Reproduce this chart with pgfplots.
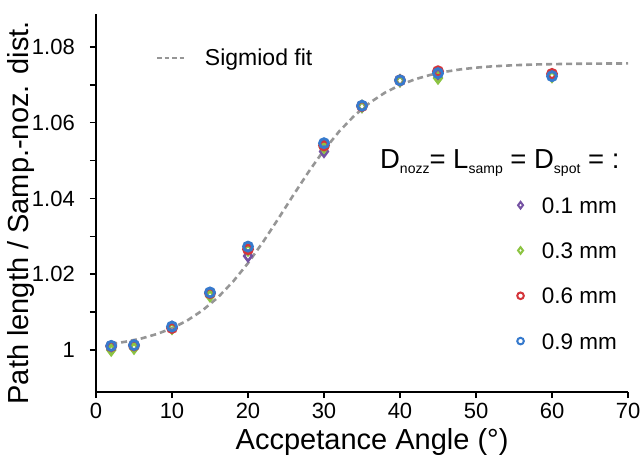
\documentclass[border=0pt]{standalone}
\usepackage{fontspec}
\setmainfont{Liberation Sans}
\usepackage{pgfplots}
\usepackage{pgfplotstable}
\pgfplotsset{compat=1.18}
\definecolor{cpurple}{RGB}{117,82,163}
\definecolor{cgreen}{RGB}{140,196,66}
\definecolor{cred}{RGB}{212,52,58}
\definecolor{cblue}{RGB}{54,122,205}
\definecolor{cgray}{RGB}{150,150,150}
\newcommand{\sub}[1]{\raisebox{-5pt}{\fontsize{14}{14}\selectfont #1}}

\pgfplotstableread{
x    p01     p03     p06     p09
2    1.0006  1.0000  1.0010  1.0011
5    1.0008  1.0005  1.0012  1.0013
10   1.0060  1.0057  1.0058  1.0062
15   1.0148  1.0143  1.0150  1.0152
20   1.0248  1.0264  1.0266  1.0273
30   1.0524  1.0535  1.0540  1.0546
35   1.0643  1.0643  1.0644  1.0645
40   1.0711  1.0711  1.0712  1.0712
45   1.0728  1.0718  1.0736  1.0731
60   1.0724  1.0722  1.0729  1.0723
}\data

\pgfplotstableread{
x   y
2   1.00160
4   1.00222
6   1.00306
8   1.00421
10  1.00574
12  1.00778
14  1.01044
16  1.01381
18  1.01798
20  1.02293
22  1.02858
24  1.03470
26  1.04100
28  1.04712
30  1.05277
32  1.05772
34  1.06189
36  1.06526
38  1.06792
40  1.06996
42  1.07149
44  1.07264
46  1.07348
48  1.07410
50  1.07454
52  1.07487
55  1.07519
58  1.07539
62  1.07554
66  1.07562
70  1.07566
}\fit

\begin{document}
\begin{tikzpicture}
\useasboundingbox (-96pt,-66pt) rectangle (548pt,392pt);
\begin{axis}[
  at={(0pt,0pt)}, anchor=south west,
  scale only axis, width=532pt, height=378pt,
  xmin=0, xmax=70, ymin=0.98891, ymax=1.08871,
  axis lines*=left,
  axis line style={line width=1.8pt, black},
  xtick={0,10,20,30,40,50,60,70},
  ytick={1,1.02,1.04,1.06,1.08},
  minor ytick={1.01,1.03,1.05,1.07},
  tick align=outside,
  major tick length=6pt, minor tick length=6pt,
  tick style={line width=1.5pt, black},
  /pgf/number format/assume math mode=true,
  ticklabel style={font=\fontsize{22}{22}\selectfont},
  yticklabel style={anchor=east, inner sep=0pt, xshift=-15pt},
  xticklabel style={anchor=north, inner sep=0pt, yshift=-5pt},
  xlabel={Accpetance Angle (°)},
  ylabel={Path length / Samp.-noz. dist.},
  xlabel style={font=\fontsize{29}{29}\selectfont, at={(axis description cs:0.519,0)}, anchor=base, yshift=-57pt},
  ylabel style={font=\fontsize{29}{29}\selectfont, at={(axis description cs:-0.1278,0.474)}, anchor=base},
  legend style={draw=none, fill=none, inner sep=0pt,
    at={(axis cs:55.4,1.0404)}, anchor=north west,
    font=\fontsize{22.5}{22.5}\selectfont,
    nodes={inner sep=0pt, text height=16pt, text depth=0pt},
    row sep=29.3pt,
    /tikz/every odd column/.append style={column sep=18pt}},
  legend cell align=left,
  legend image code/.code={\draw[#1, line width=2pt, mark size=3.3pt] plot coordinates {(0pt,0pt)};},
]
\addplot[color=cgray, line width=2.6pt, dash pattern=on 6pt off 4pt, forget plot] table[x=x,y=y] {\fit};
\addplot[only marks, mark=diamond, mark size=5pt, line width=2.6pt, color=cpurple] table[x=x,y=p01] {\data};
\addlegendentry{0.1 mm}
\addplot[only marks, mark=diamond, mark size=5pt, line width=2.6pt, color=cgreen] table[x=x,y=p03] {\data};
\addlegendentry{0.3 mm}
\addplot[only marks, mark=o, mark size=4.5pt, line width=2.8pt, color=cred] table[x=x,y=p06] {\data};
\addlegendentry{0.6 mm}
\addplot[only marks, mark=o, mark size=4.5pt, line width=2.8pt, color=cblue] table[x=x,y=p09] {\data};
\addlegendentry{0.9 mm}
\node[anchor=base east, inner sep=0pt, font=\fontsize{27.5}{27.5}\selectfont] at (axis cs:68.9,1.04805) {D\sub{nozz}= L\sub{samp} = D\sub{spot} = :};
\end{axis}
\begin{axis}[
  at={(0pt,0pt)}, anchor=south west,
  scale only axis, width=532pt, height=378pt,
  xmin=0, xmax=70, ymin=0.98891, ymax=1.08871,
  hide axis,
  legend style={draw=none, fill=none, inner sep=0pt,
    at={(axis cs:7.89,1.0770)}, anchor=west,
    font=\fontsize{23}{23}\selectfont,
    nodes={inner sep=0pt},
    /tikz/every odd column/.append style={column sep=18pt}},
  legend image code/.code={\draw[#1] (0pt,0pt) -- (29pt,0pt);},
]
\addlegendimage{color=cgray, line width=1.8pt, dash pattern=on 4.5pt off 3pt}
\addlegendentry{Sigmiod fit}
\end{axis}
\end{tikzpicture}
\end{document}
